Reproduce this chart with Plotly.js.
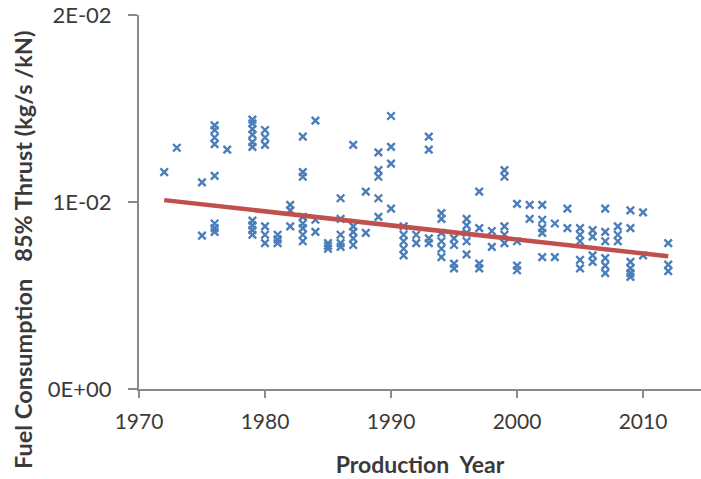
<!DOCTYPE html>
<html>
<head>
<meta charset="utf-8">
<script src="https://cdn.plot.ly/plotly-3.0.1.min.js"></script>
<style>html,body{margin:0;padding:0;background:#fff;}#chart{width:701px;height:479px;}</style>
</head>
<body>
<div id="chart"></div>
<script>
// Scatter data: production year and fuel consumption at 85% thrust (kg/s/kN)
var productionYear = [
  1972, 1973,
  1975, 1975,
  1976, 1976, 1976, 1976, 1976, 1976, 1976, 1976,
  1977,
  1979, 1979, 1979, 1979, 1979, 1979, 1979, 1979, 1979, 1979,
  1980, 1980, 1980, 1980, 1980, 1980,
  1981, 1981, 1981,
  1982, 1982, 1982,
  1983, 1983, 1983, 1983, 1983, 1983, 1983, 1983,
  1984, 1984, 1984,
  1985, 1985, 1985,
  1986, 1986, 1986, 1986, 1986,
  1987, 1987, 1987, 1987, 1987,
  1988, 1988,
  1989, 1989, 1989, 1989, 1989,
  1990, 1990, 1990, 1990,
  1991, 1991, 1991, 1991, 1991,
  1992, 1992,
  1993, 1993, 1993, 1993,
  1994, 1994, 1994, 1994, 1994, 1994,
  1995, 1995, 1995, 1995,
  1996, 1996, 1996, 1996, 1996,
  1997, 1997, 1997, 1997,
  1998, 1998,
  1999, 1999, 1999, 1999, 1999,
  2000, 2000, 2000, 2000,
  2001, 2001,
  2002, 2002, 2002, 2002, 2002,
  2003, 2003,
  2004, 2004,
  2005, 2005, 2005, 2005, 2005,
  2006, 2006, 2006, 2006,
  2007, 2007, 2007, 2007, 2007, 2007,
  2008, 2008, 2008,
  2009, 2009, 2009, 2009, 2009, 2009,
  2010, 2010,
  2012, 2012, 2012
];
var fuelConsumption = [
  0.01160, 0.01290,
  0.01105, 0.00820,
  0.01140, 0.01410, 0.01385, 0.01345, 0.01310, 0.00885, 0.00860, 0.00840,
  0.01280,
  0.01440, 0.01420, 0.01390, 0.01360, 0.01320, 0.01295, 0.00900, 0.00875, 0.00850, 0.00825,
  0.01385, 0.01345, 0.01305, 0.00870, 0.00825, 0.00780,
  0.00825, 0.00780, 0.00800,
  0.00985, 0.00955, 0.00870,
  0.01350, 0.01160, 0.01135, 0.00920, 0.00885, 0.00860, 0.00825, 0.00790,
  0.01435, 0.00905, 0.00840,
  0.00780, 0.00750, 0.00765,
  0.01020, 0.00910, 0.00825, 0.00780, 0.00760,
  0.01305, 0.00870, 0.00840, 0.00805, 0.00770,
  0.01055, 0.00835,
  0.01265, 0.01170, 0.01135, 0.01020, 0.00920,
  0.01460, 0.01295, 0.01205, 0.00965,
  0.00870, 0.00825, 0.00790, 0.00750, 0.00715,
  0.00825, 0.00780,
  0.01350, 0.01280, 0.00805, 0.00780,
  0.00940, 0.00910, 0.00835, 0.00790, 0.00750, 0.00705,
  0.00805, 0.00770, 0.00670, 0.00645,
  0.00910, 0.00875, 0.00835, 0.00790, 0.00720,
  0.01055, 0.00860, 0.00670, 0.00645,
  0.00845, 0.00760,
  0.01170, 0.01135, 0.00870, 0.00825, 0.00780,
  0.00990, 0.00790, 0.00660, 0.00635,
  0.00985, 0.00910,
  0.00985, 0.00905, 0.00860, 0.00835, 0.00705,
  0.00885, 0.00705,
  0.00965, 0.00860,
  0.00860, 0.00825, 0.00790, 0.00690, 0.00645,
  0.00850, 0.00815, 0.00715, 0.00680,
  0.00965, 0.00840, 0.00790, 0.00700, 0.00660, 0.00620,
  0.00870, 0.00825, 0.00790,
  0.00955, 0.00860, 0.00680, 0.00645, 0.00600, 0.00620,
  0.00945, 0.00715,
  0.00780, 0.00665, 0.00630
];
// Linear trendline end points
var trendYears = [1972, 2012];
var trendValues = [0.0101, 0.0071];

// Axis ticks
var xTickVals = [1970, 1980, 1990, 2000, 2010];
var yTickVals = [0, 0.01, 0.02];
var yTickText = ['0E+00', '1E-02', '2E-02'];

var font = 'Lato, "Open Sans", "DejaVu Sans", sans-serif';
var axisGray = '#8a8a8a';
var labelColor = '#3a3a3a';

var traces = [
  {
    type: 'scatter', mode: 'markers',
    x: productionYear, y: fuelConsumption,
    marker: {symbol: 'x-thin-open', size: 7.5, color: '#4a7ebb', line: {color: '#4a7ebb', width: 2.4}},
    showlegend: false, hoverinfo: 'x+y'
  },
  {
    type: 'scatter', mode: 'lines',
    x: trendYears, y: trendValues,
    line: {color: '#c0504d', width: 4.5},
    showlegend: false, hoverinfo: 'skip'
  }
];

var layout = {
  width: 701, height: 479,
  margin: {l: 139, r: 0, t: 15, b: 90, pad: 0},
  paper_bgcolor: '#ffffff', plot_bgcolor: '#ffffff',
  font: {family: font, color: labelColor, size: 21},
  xaxis: {
    range: [1970, 2014.6], tickvals: xTickVals,
    showgrid: false, zeroline: false,
    showline: true, linecolor: axisGray, linewidth: 2,
    ticks: 'outside', ticklen: 7, tickwidth: 2, tickcolor: axisGray,
    tickfont: {family: font, size: 21, color: labelColor},
    ticklabelstandoff: 6,
    title: {text: '<b>Production\u00a0\u00a0Year</b>', font: {family: font, size: 23, color: labelColor}, standoff: 25}
  },
  yaxis: {
    range: [0, 0.02], tickvals: yTickVals, ticktext: yTickText,
    showgrid: false, zeroline: false,
    showline: true, linecolor: axisGray, linewidth: 2,
    ticks: 'outside', ticklen: 9, tickwidth: 2, tickcolor: axisGray,
    tickfont: {family: font, size: 22, color: labelColor},
    ticklabelstandoff: 12
  },
  annotations: [{
    text: '<b>Fuel Consumption\u00a0\u00a0 85% Thrust (kg/s /kN)</b>',
    xref: 'paper', yref: 'paper', x: 0, y: 0.5, xanchor: 'center', yanchor: 'middle',
    xshift: -116, yshift: -48, textangle: -90, showarrow: false,
    font: {family: font, size: 23.5, color: labelColor}
  }]
};

Plotly.newPlot('chart', traces, layout, {staticPlot: true, displayModeBar: false});
</script>
</body>
</html>
